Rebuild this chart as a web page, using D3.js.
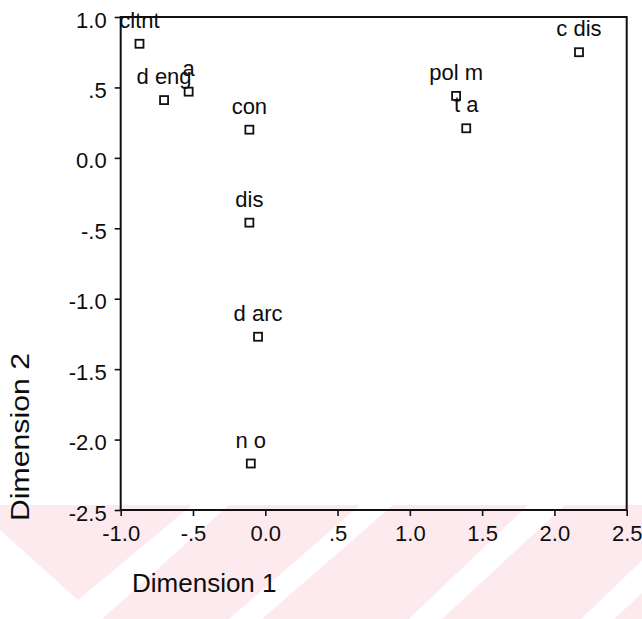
<!DOCTYPE html>
<html>
<head>
<meta charset="utf-8">
<script src="https://cdn.jsdelivr.net/npm/d3@7"></script>
<style>
  html, body { margin: 0; padding: 0; background: #fff; }
  svg { display: block; }
  text { font-family: "Liberation Sans", Arial, sans-serif; fill: #0d0d0d; }
</style>
</head>
<body>
<svg id="chart" width="642" height="619"></svg>
<script>
// Category labels and their coordinates on the two dimensions
const names = ["cltnt", "d eng", "a", "con", "dis", "d arc", "n o", "pol m", "t a", "c dis"];
const dim1  = [-0.87, -0.70, -0.53, -0.11, -0.11, -0.05, -0.10, 1.32, 1.39, 2.17];
const dim2  = [ 0.81,  0.41,  0.47,  0.20, -0.46, -1.27, -2.17, 0.44, 0.21, 0.75];

// Axis ticks and their printed labels
const xTicks = [-1.0, -0.5, 0.0, 0.5, 1.0, 1.5, 2.0, 2.5];
const xTickLabels = ["-1.0", "-.5", "0.0", ".5", "1.0", "1.5", "2.0", "2.5"];
const yTicks = [-2.5, -2.0, -1.5, -1.0, -0.5, 0.0, 0.5, 1.0];
const yTickLabels = ["-2.5", "-2.0", "-1.5", "-1.0", "-.5", "0.0", ".5", "1.0"];

const xTitle = "Dimension 1";
const yTitle = "Dimension 2";

const svg = d3.select("#chart");
const W = 642, H = 619;
const plotL = 120.7, plotR = 626.7, plotT = 17, plotB = 510;

// Soft striped band along the bottom of the page
const deco = svg.append("g");
deco.append("rect").attr("x", 0).attr("y", 505).attr("width", W).attr("height", H - 505)
  .attr("fill", "#fdeaee");
const gaps = [
  [[0,530],[78,600],[192,505],[229,505],[102,619],[0,619]],
  [[229,619],[262,619],[393,505],[360,505]],
  [[409,619],[442,619],[565,505],[528,505]],
  [[581,619],[614,619],[737,505],[700,505]]
];
deco.selectAll("polygon").data(gaps).join("polygon")
  .attr("points", d => d.map(p => p.join(",")).join(" "))
  .attr("fill", "#fff");

const x = d3.scaleLinear().domain([-1, 2.5]).range([plotL, plotR]);
const y = d3.scaleLinear().domain([-2.5, 1]).range([plotB, plotT]);

// Bottom axis
const gx = svg.append("g").attr("transform", `translate(0,${plotB})`)
  .call(d3.axisBottom(x).tickValues(xTicks).tickSize(6)
    .tickFormat((d, i) => xTickLabels[i]));
gx.select(".domain").remove();
gx.selectAll(".tick line").attr("stroke", "#111").attr("stroke-width", 1.6);
gx.selectAll(".tick text").attr("y", 31).attr("dy", 0)
  .style("font-size", "22px").attr("fill", "#0d0d0d");

// Left axis
const gy = svg.append("g").attr("transform", `translate(${plotL},0)`)
  .call(d3.axisLeft(y).tickValues(yTicks).tickSize(6)
    .tickFormat((d, i) => yTickLabels[i]));
gy.select(".domain").remove();
gy.selectAll(".tick line").attr("stroke", "#111").attr("stroke-width", 1.6);
gy.selectAll(".tick text").attr("x", -14).attr("dy", 10)
  .style("font-size", "22px").attr("fill", "#0d0d0d");

// Plot frame
svg.append("rect")
  .attr("x", plotL).attr("y", plotT)
  .attr("width", plotR - plotL).attr("height", plotB - plotT)
  .attr("fill", "none").attr("stroke", "#111").attr("stroke-width", 2);

// Points: hollow squares with a label above each
const pts = names.map((n, i) => ({ name: n, d1: dim1[i], d2: dim2[i] }));
const s = 8;
svg.append("g").selectAll("rect").data(pts).join("rect")
  .attr("x", d => x(d.d1) - s / 2)
  .attr("y", d => y(d.d2) - s / 2)
  .attr("width", s).attr("height", s)
  .attr("fill", "none").attr("stroke", "#111").attr("stroke-width", 1.8);

svg.append("g").selectAll("text").data(pts).join("text")
  .attr("x", d => x(d.d1))
  .attr("y", d => y(d.d2) - 16)
  .attr("text-anchor", "middle")
  .style("font-size", "22px")
  .text(d => d.name);

// Axis titles
svg.append("text")
  .attr("x", 132).attr("y", 592)
  .style("font-size", "26px")
  .text(xTitle);

svg.append("text")
  .attr("transform", "translate(29,521) rotate(-90)")
  .attr("x", 0).attr("y", 0)
  .attr("textLength", 168).attr("lengthAdjust", "spacingAndGlyphs")
  .style("font-size", "26px")
  .text(yTitle);
</script>
</body>
</html>
